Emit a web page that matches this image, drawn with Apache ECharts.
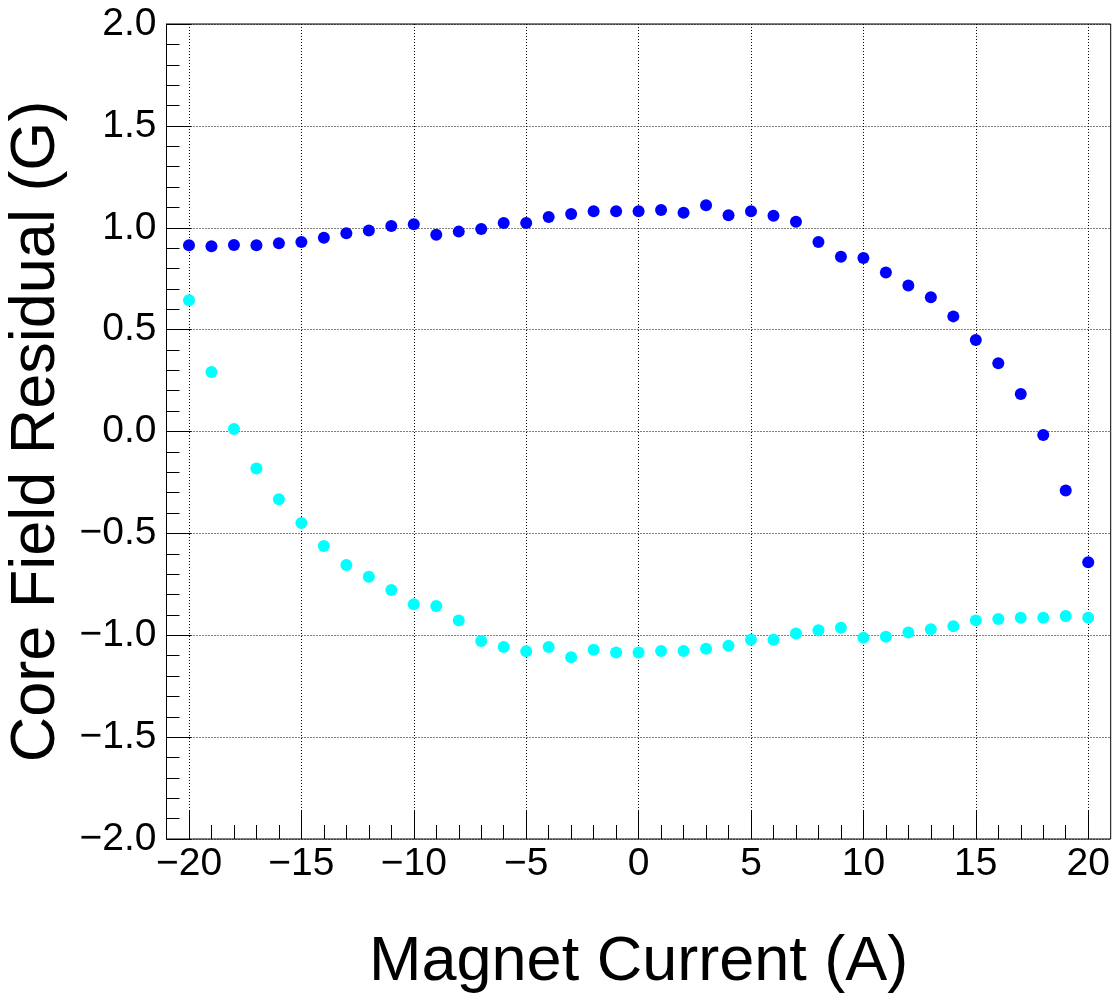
<!DOCTYPE html>
<html>
<head>
<meta charset="utf-8">
<script src="https://cdn.jsdelivr.net/npm/echarts@6/dist/echarts.min.js"></script>
<style>
  html, body { margin: 0; padding: 0; background: #fff; }
  #chart { width: 1117px; height: 1000px; }
</style>
</head>
<body>
<div id="chart"></div>
<script>
  // magnet current (A)
  var current = [-20, -19, -18, -17, -16, -15, -14, -13, -12, -11, -10, -9, -8, -7, -6, -5, -4, -3, -2, -1,
    0, 1, 2, 3, 4, 5, 6, 7, 8, 9, 10, 11, 12, 13, 14, 15, 16, 17, 18, 19, 20];
  // residual, blue points
  var residualBlue = [0.914, 0.909, 0.915, 0.914, 0.924, 0.930, 0.951, 0.973, 0.987, 1.009, 1.017,
    0.966, 0.981, 0.994, 1.023, 1.023, 1.053, 1.067, 1.081, 1.081,
    1.081, 1.087, 1.074, 1.110, 1.061, 1.081, 1.059, 1.030, 0.930, 0.858, 0.852,
    0.780, 0.716, 0.659, 0.565, 0.449, 0.335, 0.184, -0.017, -0.290, -0.642];
  // residual, cyan points
  var residualCyan = [0.644, 0.292, 0.012, -0.182, -0.333, -0.449, -0.562, -0.655, -0.713, -0.778, -0.848,
    -0.856, -0.927, -1.028, -1.058, -1.079, -1.058, -1.108, -1.071, -1.085,
    -1.085, -1.077, -1.077, -1.066, -1.051, -1.022, -1.022, -0.991, -0.976, -0.963, -1.012,
    -1.007, -0.986, -0.971, -0.956, -0.927, -0.920, -0.914, -0.914, -0.906, -0.914];

  function pairs(ys) {
    var out = [];
    for (var i = 0; i < current.length; i++) out.push([current[i], ys[i]]);
    return out;
  }
  function fmt(v, digits) {
    var s = Math.abs(v).toFixed(digits);
    return (v < -1e-9 ? '\u2212' : '') + s;
  }

  var font = 'Liberation Sans, Arial, Helvetica, sans-serif';
  var chart = echarts.init(document.getElementById('chart'));
  chart.setOption({
    animation: false,
    backgroundColor: '#fff',
    grid: [
      // frame + data: x from -21 to 21
      { left: 166.5, right: 6.3, top: 24, bottom: 161, show: true, borderColor: '#000', borderWidth: 1,
        backgroundColor: 'transparent', outerBoundsMode: 'none', containLabel: false },
      // tick axis: x from -20 to 20
      { left: 189, right: 28.8, top: 24, bottom: 161, outerBoundsMode: 'none', containLabel: false }
    ],
    xAxis: [
      { gridIndex: 0, type: 'value', min: -21, max: 21, show: false, axisLine: { onZero: false } },
      {
        gridIndex: 1, type: 'value', min: -20, max: 20, interval: 5, position: 'bottom',
        name: 'Magnet Current (A)', nameLocation: 'middle', nameGap: 124,
        nameTextStyle: { fontFamily: font, fontSize: 63, color: '#000', verticalAlign: 'middle' },
        axisLine: { show: false, onZero: false },
        axisTick: { show: true, inside: true, length: 29, lineStyle: { color: '#000', width: 1 } },
        minorTick: { show: true, splitNumber: 5, length: 14, lineStyle: { color: '#000', width: 1 } },
        axisLabel: { fontFamily: font, fontSize: 39, color: '#000', margin: 6,
          formatter: function (v) { return fmt(v, 0); } },
        splitLine: { show: true, lineStyle: { color: '#000', width: 1, type: [1, 2] } }
      }
    ],
    yAxis: [
      {
        gridIndex: 0, type: 'value', min: -2, max: 2, interval: 0.5, position: 'left',
        name: 'Core Field Residual (G)', nameLocation: 'middle', nameGap: 117,
        nameTextStyle: { fontFamily: font, fontSize: 63, color: '#000', verticalAlign: 'middle' },
        axisLine: { show: true, onZero: false, lineStyle: { color: '#000', width: 1 } },
        axisTick: { show: true, inside: true, length: 25, lineStyle: { color: '#000', width: 1 } },
        minorTick: { show: true, splitNumber: 5, length: 13, lineStyle: { color: '#000', width: 1 } },
        axisLabel: { fontFamily: font, fontSize: 39, color: '#000', margin: 10,
          formatter: function (v) { return fmt(v, 1); } },
        splitLine: { show: true, lineStyle: { color: '#000', width: 1, type: [1, 2] } }
      },
      { gridIndex: 1, type: 'value', min: -2, max: 2, show: false, axisLine: { onZero: false } }
    ],
    series: [
      {
        type: 'scatter', xAxisIndex: 0, yAxisIndex: 0, clip: false,
        symbol: 'circle', symbolSize: 12,
        itemStyle: { color: '#0000ff', opacity: 1 },
        data: pairs(residualBlue)
      },
      {
        type: 'scatter', xAxisIndex: 0, yAxisIndex: 0, clip: false,
        symbol: 'circle', symbolSize: 12,
        itemStyle: { color: '#00ffff', opacity: 1 },
        data: pairs(residualCyan)
      }
    ]
  });
</script>
</body>
</html>
